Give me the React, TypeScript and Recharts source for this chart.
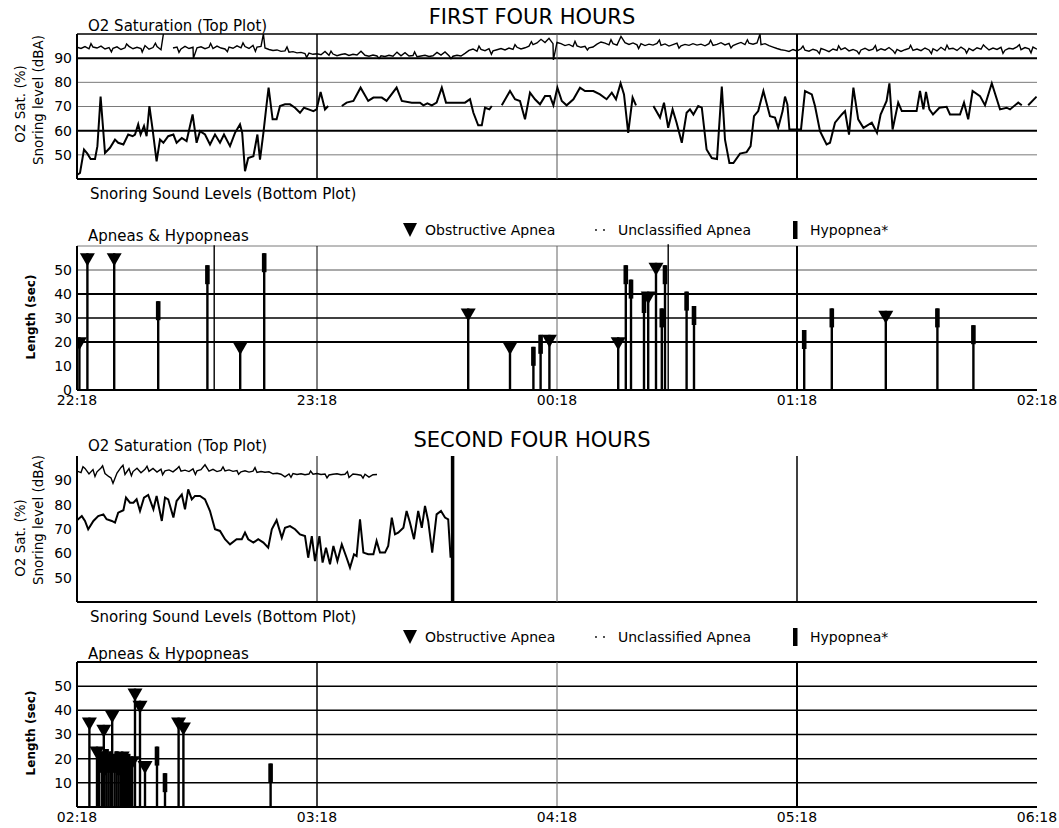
import React from "react";
import { ComposedChart, Line, Scatter, XAxis, YAxis, ReferenceLine } from "recharts";

const FONT = "'DejaVu Sans', 'Liberation Sans', Arial, sans-serif";

// ---------- axes ----------
const hourTicks = [0, 60, 120, 180, 240];
const firstHourLabels = ["22:18", "23:18", "00:18", "01:18", "02:18"];
const secondHourLabels = ["02:18", "03:18", "04:18", "05:18", "06:18"];
const levelTicks = [50, 60, 70, 80, 90];
const lengthTicksFirst = [0, 10, 20, 30, 40, 50];
const lengthTicksSecond = [10, 20, 30, 40, 50];

// ---------- first four hours: O2 saturation (index = minute) ----------
const o2FirstValues: (number | null)[] = [
  94.5, 94.0, 94.8, 93.9, 94.6, 94.2, 95.0, 93.8, 94.4, 94.1,
  94.7, 93.6, 94.3, 94.9, 93.9, 94.5, 94.0, 95.2, 93.7, 94.4,
  94.8, 93.5, null, null, 94.2, 94.6, 93.8, 94.9, 94.0, 94.5,
  94.3, 94.7, 93.9, 94.5, 94.0, 95.0, 94.2, 93.8, 94.6, 94.1,
  95.1, 94.3, 94.8, 94.0, 95.3, 94.6, 94.9, 94.2, 93.6, 93.2,
  93.4, 92.8, 93.0, 92.5, 92.7, 92.2, 92.4, 91.9, 92.1, 91.6,
  91.8, 91.4, 92.8, 91.2, 91.7, 91.0, 91.5, 91.8, 91.1, 91.6,
  91.3, 92.9, 91.2, 90.8, 91.3, 90.9, 91.0, 90.7, 91.2, 90.8,
  92.5, 91.0, 92.3, 90.9, 91.1, 90.6, 90.9, 91.2, 90.7, 91.0,
  92.4, 91.3, 92.6, 91.0, 90.8, 91.2, 90.9, 92.0, 93.2, 93.8,
  92.9, 93.6, 93.1, 93.9, 93.0, 93.5, 94.0, 93.4, 94.2, 93.6,
  94.5, 93.8, 94.3, 95.0, 95.6, 96.3, 97.8, 96.5, 98.2, 96.0,
  96.5, 96.0, 95.2, 95.7, 94.8, 95.1, 94.5, 94.9, 94.3, 94.6,
  95.8, 96.7, 96.2, 95.5, 96.0, 95.4, 99.0, 96.4, 95.7, 96.3,
  95.5, 96.0, 95.2, 95.8, 95.4, 96.1, 95.3, 95.9, 95.0, 95.6,
  96.2, 95.1, 95.7, 95.3, 96.0, 95.4, 95.8, 95.1, 96.0, 95.3,
  95.7, 96.4, 95.5, 96.1, 95.2, 95.9, 96.5, 95.6, 96.2, 95.8,
  96.3, 95.6, 96.0, 95.2, 94.6, 94.0, 93.5, 93.2, 92.8, 93.6,
  93.0, 93.9, 93.3, 92.9, 93.7, 93.1, 94.0, 93.4, 92.7, 93.8,
  93.2, 93.5, 94.3, 93.0, 93.6, 92.9, 93.4, 94.1, 93.2, 93.7,
  93.0, 93.9, 93.3, 94.4, 93.1, 93.6, 92.8, 93.5, 94.0, 93.2,
  93.8, 93.1, 94.2, 93.4, 93.9, 93.0, 94.5, 93.3, 93.8, 94.1,
  93.2, 94.6, 93.5, 94.0, 93.1, 94.3, 93.7, 94.8, 93.4, 94.2,
  93.6, 94.5, 93.3, 94.1, 93.8, 94.7, 93.5, 94.4, 93.9, 94.6,
  93.7,
];
// brief excursions between the minute readings [minute, %]
const o2FirstSpikes: [number, number][] = [
  [3.5, 96.0], [8.6, 92.6], [12.4, 95.9], [16.3, 92.5], [19.6, 96.2], [21.6, 100], [25.5, 92.4],
  [29.1, 90], [33.4, 96.1], [37.6, 92.7], [41.5, 96.3], [44.6, 92.8], [46.6, 100], [52.5, 94.6],
  [57.4, 90.3], [63.5, 92.9], [75.5, 89.9], [84.4, 92.6], [93.5, 89.8], [100.5, 95.0], [103.6, 91.6],
  [109.5, 95.6], [113.6, 96.8], [119.1, 89.3], [124.5, 97.0], [127.6, 93.4], [133.5, 97.6], [140.4, 94.0],
  [145.6, 97.5], [150.5, 94.1], [158.4, 97.4], [163.5, 94.2], [167.6, 97.6], [170.75, 100], [181.5, 95.0],
  [185.6, 91.9], [190.4, 95.1], [195.5, 91.8], [199.6, 95.2], [204.5, 92.0], [208.4, 95.3], [213.6, 91.9],
  [217.5, 95.4], [222.4, 92.1], [226.6, 95.5], [231.5, 92.0], [235.6, 95.6], [238.5, 92.2],
];

// ---------- first four hours: snoring level [minute, dBA] ----------
const snoringFirst: [number, number | null][] = [
  [0.1, 41.8], [0.75, 42.5], [1.75, 52.2], [2.6, 50.5], [3.4, 48.3], [4.5, 48.3], [5.1, 53.6], [5.9, 74.1],
  [7.0, 50.8], [8.25, 52.9], [9.5, 56.3], [10.3, 55], [11.6, 54.3], [12.8, 58.4], [13.9, 57.7], [14.5, 58.4],
  [15.3, 62.6], [15.9, 58.4], [16.75, 61.9], [17.4, 57.7], [18.1, 70.2], [18.9, 60.5], [19.9, 47.3], [20.75, 56.3],
  [21.6, 55], [22.8, 57.7], [24.1, 58.4], [24.9, 55], [26.2, 57], [27.4, 55.7], [28.9, 66.7], [29.9, 55],
  [30.75, 59.8], [32, 58.4], [33.25, 54.3], [34.5, 58.4], [35.75, 55], [36.75, 58.4], [38.25, 53.6], [39.5, 59.1],
  [40.75, 62.6], [41.3, 59.1], [42, 43.2], [42.8, 48.7], [44.1, 49.4], [45.1, 58.4], [45.75, 48], [46.6, 59.1],
  [47.4, 70.9], [47.9, 77.8], [48.9, 64.7], [49.9, 64.7], [50.75, 70.2], [52, 70.9], [53.25, 70.9], [54.5, 69.5],
  [55.75, 67.4], [56.75, 69.5], [57.9, 68.8], [59.1, 68.1], [59.9, 68.8], [60.9, 76], [62, 68.8], [62.8, 70.2],
  [64, null], [66.2, 70.2], [67.4, 71.6], [69.1, 72.3], [70.9, 77.8], [72.8, 72.3], [74.1, 73.7], [76.2, 73.7],
  [77.4, 72.3], [79.9, 77.8], [81.2, 72.3], [83.7, 71.6], [85.75, 71.6], [86.6, 70.5], [87.6, 71.3], [88.7, 70.5],
  [89.9, 71.6], [91.2, 77.8], [92.25, 71.6], [94.1, 71.6], [97, 71.6], [98.25, 73], [99.1, 67.4], [100.3, 62.2],
  [101.2, 62.2], [102, 69.5], [103.1, 68.8], [103.7, 70.2], [105, null], [106.2, 70.5], [108.25, 76.4], [109.5, 73],
  [110.75, 72.3], [112, 64.7], [113.25, 75.7], [114.5, 73], [115.75, 70.9], [117, 74.3], [118.25, 74.3], [119.1, 70.5],
  [120.1, 77.8], [121.2, 72.3], [122.4, 70.5], [124.1, 73], [125.75, 77.8], [127, 76.4], [129.1, 76.4], [130.75, 75],
  [132.4, 73], [133.7, 75.7], [134.75, 73], [135.9, 79.6], [136.75, 75], [137.8, 59.1], [138.9, 73.7], [139.75, 70.5],
  [142, null], [144.1, 70.2], [145.75, 65.4], [146.75, 71.6], [147.8, 61.2], [148.9, 68.8], [149.9, 63.3], [151.2, 55],
  [152.4, 67.4], [153.25, 68.8], [154.1, 66.7], [155.3, 70.2], [156.2, 69.5], [157.4, 52.2], [158.7, 48.7], [160, 48.3],
  [161.2, 78.2], [162, 56.3], [163.1, 46.6], [164.1, 46.6], [165.75, 50.5], [167.4, 51.1], [168.4, 53.6], [169.25, 66],
  [170.3, 68.1], [171.6, 76.4], [173.25, 66], [174.5, 65.4], [175.3, 61.2], [176.4, 68.1], [177, 74.1], [177.6, 70.9],
  [178.1, 60.5], [180.1, 60.5], [181, 60.5], [182, 76.4], [183.7, 75], [184.5, 70.2], [185.75, 59.8], [187.4, 54.3],
  [188.25, 55], [189.5, 63.3], [191.2, 66.7], [192, 68.1], [193, 58.4], [194.1, 77.8], [195.3, 64.7], [196.6, 61.2],
  [198.7, 63.3], [200, 59.1], [200.9, 66.7], [202.4, 72.3], [203.1, 79.6], [203.9, 60.5], [205.3, 71.6], [206.2, 68.1],
  [209.9, 68.1], [210.75, 76.4], [211.6, 68.8], [212.25, 76], [213.1, 68.8], [214, 66.7], [215.6, 69.5], [217.4, 69.9],
  [218.25, 66.7], [220.75, 66.7], [221.75, 71.6], [222.8, 64.7], [223.9, 76.4], [225.75, 74.3], [227, 70.5], [228.7, 79.6],
  [230.75, 68.8], [232.4, 69.5], [233.25, 68.8], [235.3, 71.6], [236.2, 70.5], [237, null], [237.8, 70.5], [239.9, 74.1],
];

// ---------- first four hours: events [minute, length sec, kind] ----------
type Kind = "OA" | "H" | "U";
const eventsFirst: [number, number, Kind][] = [
  [0.6, 22, "OA"], [2.6, 57, "OA"], [9.3, 57, "OA"], [20.3, 37, "H"], [32.6, 52, "H"], [34.3, 60.3, "U"],
  [40.8, 20, "OA"], [46.8, 57, "H"], [97.8, 34, "OA"], [108.25, 20, "OA"], [114.1, 18, "H"], [115.9, 23, "H"],
  [118.1, 23, "OA"], [135.3, 22, "OA"], [137.2, 52, "H"], [138.5, 46, "H"], [141.75, 40, "H"], [142.8, 41, "OA"],
  [144.75, 53, "OA"], [146.2, 34, "H"], [147, 52, "H"], [147.8, 60.7, "U"], [152.4, 41, "H"], [154.25, 35, "H"],
  [181.8, 25, "H"], [188.7, 34, "H"], [202.2, 33, "OA"], [215.1, 34, "H"], [224.1, 27, "H"],
];

// ---------- second four hours ----------
const o2SecondValues: number[] = [
  93.8, 93.2, 94.9, 92.6, 94.4, 93.5, 95.1, 92.8, 91.5, 88.8,
  93.0, 95.3, 92.4, 94.8, 93.6, 95.0, 93.1, 94.5, 93.7, 94.9,
  93.4, 94.6, 93.9, 94.3, 93.5, 94.8, 93.8, 94.2, 93.6, 94.7,
  93.9, 94.4, 96.4, 93.8, 94.5, 93.6, 94.1, 93.9, 94.3, 93.7,
  94.0, 93.5, 93.9, 93.4, 93.8, 93.2, 93.6, 93.3, 93.5, 92.7,
  92.9, 92.5, 91.4, 92.6, 92.8, 92.4, 92.7, 92.3, 92.6, 92.5,
  92.8, 92.4, 92.6, 92.2, 92.5, 92.7, 92.3, 92.5, 91.2, 92.6,
  92.4, 92.1, 92.5, 91.3, 92.3, 92.4,
];
const o2SecondSpikes: [number, number][] = [
  [1.5, 95.6], [4.5, 91.6], [6.4, 96.0], [8.5, 91.0], [11.5, 96.2], [13.6, 91.9], [17.5, 95.8],
  [21.4, 92.3], [25.5, 95.7], [29.6, 92.4], [36.5, 95.5], [40.4, 92.5], [44.5, 95.2], [53.5, 91.2],
  [58.4, 93.8], [62.5, 91.0], [67.6, 93.6], [71.5, 90.9],
];

const snoringSecond: [number, number][] = [
  [0, 73.6], [1.2, 75.3], [2, 73.3], [2.8, 69.9], [4.1, 73.3], [5.3, 75.3], [6.6, 76], [7.4, 74],
  [8.7, 73.3], [9.5, 72.6], [10.3, 76.7], [11.6, 77.7], [12.25, 82.9], [13.25, 80.8], [14.1, 80.8], [14.9, 82.2],
  [15.75, 77.4], [16.75, 82.9], [17.8, 84], [19.1, 78.1], [19.9, 83.6], [21.2, 73.3], [22, 82.9], [22.8, 82.2],
  [24.1, 74.7], [24.9, 81.5], [26.2, 84.2], [27, 78.1], [27.8, 86.3], [28.7, 82.2], [29.5, 83.6], [30.75, 83.6],
  [32, 82.2], [33.25, 77.4], [34.5, 69.9], [35.75, 69.2], [37, 65.8], [38.25, 63.7], [39.9, 65.8], [41.2, 65.8],
  [42, 68.5], [42.8, 65.8], [44.1, 64.4], [45.3, 65.8], [46.6, 64.4], [47.8, 62.3], [48.7, 69.9], [49.9, 73.6],
  [51.2, 66.4], [52, 70.5], [53.25, 71.2], [54.5, 69.9], [55.75, 67.8], [57, 67.1], [57.8, 58.2], [58.7, 67.1],
  [59.5, 56.8], [60.6, 67.1], [61.4, 56.2], [62.25, 62.3], [63.25, 55.5], [64.1, 63], [65.1, 56.8], [66.2, 63.7],
  [67.4, 58.2], [68.25, 54.1], [69.25, 59.6], [69.9, 58.9], [70.75, 74], [71.6, 60.3], [72.8, 59.6], [74.1, 59.6],
  [74.9, 65.1], [75.75, 60.3], [77, 60.3], [77.8, 63], [78.7, 74.7], [79.5, 67.8], [80.3, 68.5], [81.6, 70.5],
  [82.4, 77.4], [83.25, 72.6], [84.25, 65.8], [85.3, 77.4], [86.2, 70.5], [87, 79.5], [87.8, 73.3], [88.8, 60.3],
  [89.9, 76], [91, 77.4], [92, 74.7], [92.8, 74], [93.4, 58.2],
];
const recordingEndSecond = 93.9;

const eventsSecond: [number, number, Kind][] = [
  [3.1, 37, "OA"], [5, 25, "OA"], [5.5, 22, "H"], [6.2, 23, "H"], [6.7, 34, "OA"], [6.9, 21, "H"],
  [7.4, 24, "H"], [7.9, 22, "H"], [8.4, 23, "H"], [8.8, 40, "OA"], [9.4, 22, "H"], [9.9, 23, "H"],
  [10.4, 21, "H"], [10.9, 22, "H"], [11.3, 23, "OA"], [11.8, 22, "H"], [12.3, 21, "H"], [12.8, 22, "H"],
  [13.3, 20, "H"], [13.8, 21, "OA"], [14.5, 49, "OA"], [15.75, 44, "OA"], [17, 19, "OA"], [20, 25, "H"],
  [22, 14, "H"], [25.4, 37, "OA"], [26.6, 35, "OA"], [48.4, 18, "H"],
];

// ---------- helpers ----------
const mergeSeries = (values: (number | null)[], spikes: [number, number][]) => {
  const pts: { t: number; v: number | null }[] = values.map((v, i) => ({ t: i, v }));
  spikes.forEach(([t, v]) => {
    const prev = values[Math.floor(t)];
    if (prev !== null) pts.push({ t, v });
  });
  return pts.sort((a, b) => a.t - b.t);
};
const pairsToSeries = (pairs: [number, number | null][]) => pairs.map(([t, v]) => ({ t, v }));

const o2First = mergeSeries(o2FirstValues, o2FirstSpikes);
const o2Second = mergeSeries(o2SecondValues, o2SecondSpikes);
const snoreFirst = pairsToSeries(snoringFirst);
const snoreSecond = pairsToSeries(snoringSecond);

const toEvents = (ev: [number, number, Kind][]) => ev.map(([t, len, kind]) => ({ t, len, kind }));
const evFirst = toEvents(eventsFirst);
const evSecond = toEvents(eventsSecond);

const tickStyle = { fontSize: 14, fill: "#000", fontFamily: FONT };

const Triangle = (p: any) => {
  const { cx, cy } = p;
  if (cx == null || cy == null) return <g />;
  return <polygon points={`${cx - 7.5},${cy} ${cx + 7.5},${cy} ${cx},${cy + 13}`} fill="#000" />;
};
const HypBar = (p: any) => {
  const { cx, cy } = p;
  if (cx == null || cy == null) return <g />;
  return <rect x={cx - 2.3} y={cy} width={4.6} height={19} fill="#000" />;
};

type GL = { v: number; w: number; c: string };

const renderH = (lines: GL[]) =>
  lines.map((g, i) => (
    <ReferenceLine key={"h" + i} y={g.v} stroke={g.c} strokeWidth={g.w} ifOverflow="visible" />
  ));
const renderV = (lines: GL[]) =>
  lines.map((g, i) => (
    <ReferenceLine key={"v" + i} x={g.v} stroke={g.c} strokeWidth={g.w} ifOverflow="visible" />
  ));

const stems = (ev: { t: number; len: number; kind: Kind }[]) =>
  ev.map((e, i) => (
    <ReferenceLine
      key={"s" + i}
      segment={[{ x: e.t, y: 0 }, { x: e.t, y: e.len }]}
      stroke="#000"
      strokeWidth={e.kind === "U" ? 1.4 : 2.4}
      ifOverflow="visible"
    />
  ));

const SignalPanel = ({ top, o2, snore, hGrid, vGrid, endMarker }: any) => (
  <div style={{ position: "absolute", left: 0, top }}>
    <ComposedChart width={1059} height={200} margin={{ top: top === 0 ? 34 : 36, right: 22, bottom: top === 0 ? 21 : 18, left: 37 }}>
      <XAxis dataKey="t" type="number" domain={[0, 240]} ticks={hourTicks} hide allowDataOverflow />
      <YAxis
        type="number"
        domain={[40, 100]}
        ticks={levelTicks}
        interval={0}
        width={40}
        tickSize={0}
        tickMargin={5}
        tickLine={false}
        tick={tickStyle}
        axisLine={{ stroke: "#000", strokeWidth: 2 }}
        allowDataOverflow
      />
      {renderH(hGrid)}
      {renderV(vGrid)}
      {endMarker != null && (
        <ReferenceLine x={endMarker} stroke="#000" strokeWidth={3.5} ifOverflow="visible" />
      )}
      <Line data={o2} dataKey="v" stroke="#000" strokeWidth={1.4} dot={false} isAnimationActive={false} connectNulls={false} />
      <Line data={snore} dataKey="v" stroke="#000" strokeWidth={2} dot={false} isAnimationActive={false} connectNulls={false} />
    </ComposedChart>
  </div>
);

const EventPanel = ({ top, height, marginTop, xHeight, marginBottom, ev, labels, yTicks, hGrid, vGrid }: any) => (
  <div style={{ position: "absolute", left: 0, top }}>
    <ComposedChart width={1059} height={height} margin={{ top: marginTop, right: 22, bottom: marginBottom, left: 37 }}>
      <XAxis
        dataKey="t"
        type="number"
        domain={[0, 240]}
        ticks={hourTicks}
        interval={0}
        height={xHeight}
        tickSize={0}
        tickMargin={5}
        tickLine={false}
        tick={tickStyle}
        axisLine={{ stroke: "#000", strokeWidth: 2 }}
        tickFormatter={(v: number) => labels[hourTicks.indexOf(v)]}
        allowDataOverflow
      />
      <YAxis
        type="number"
        domain={[0, 60]}
        ticks={yTicks}
        interval={0}
        width={40}
        tickSize={0}
        tickMargin={5}
        tickLine={false}
        tick={tickStyle}
        axisLine={{ stroke: "#000", strokeWidth: 2 }}
        allowDataOverflow
      />
      {renderH(hGrid)}
      {renderV(vGrid)}
      {stems(ev)}
      <Scatter data={ev.filter((e: any) => e.kind === "H")} dataKey="len" shape={HypBar} isAnimationActive={false} />
      <Scatter data={ev.filter((e: any) => e.kind === "OA")} dataKey="len" shape={Triangle} isAnimationActive={false} />
    </ComposedChart>
  </div>
);

const txt = { fontFamily: FONT, fill: "#000" } as const;

const Legend = ({ y }: { y: number }) => (
  <g>
    <polygon points={`403,${y - 12} 417,${y - 12} 410,${y + 2}`} fill="#000" />
    <text x={425} y={y} fontSize={14} {...txt}>Obstructive Apnea</text>
    <circle cx={596} cy={y - 5} r={0.9} fill="#000" />
    <circle cx={604} cy={y - 5} r={0.9} fill="#000" />
    <text x={618} y={y} fontSize={14} {...txt}>Unclassified Apnea</text>
    <rect x={793} y={y - 14} width={4.5} height={18} fill="#000" />
    <text x={810} y={y} fontSize={14} {...txt}>Hypopnea*</text>
  </g>
);

export default function App() {
  const thin = "#7a7a7a";
  const dark = "#000";
  return (
    <div style={{ position: "absolute", left: 0, top: 0, width: 1059, height: 828, background: "#fff" }}>
      <SignalPanel
        top={0}
        o2={o2First}
        snore={snoreFirst}
        hGrid={[
          { v: 100, w: 1.5, c: dark },
          { v: 90, w: 2, c: dark },
          { v: 80, w: 1, c: thin },
          { v: 70, w: 1, c: thin },
          { v: 60, w: 2, c: dark },
          { v: 50, w: 1, c: thin },
          { v: 40, w: 2, c: dark },
        ]}
        vGrid={[
          { v: 60, w: 1.5, c: dark },
          { v: 120, w: 1, c: "#555" },
          { v: 180, w: 2, c: dark },
        ]}
      />
      <EventPanel
        top={200}
        height={220}
        marginTop={46}
        xHeight={25}
        marginBottom={5}
        ev={evFirst}
        labels={firstHourLabels}
        yTicks={lengthTicksFirst}
        hGrid={[
          { v: 60, w: 1, c: thin },
          { v: 50, w: 1, c: "#555" },
          { v: 40, w: 2, c: dark },
          { v: 30, w: 1.5, c: dark },
          { v: 20, w: 2, c: dark },
        ]}
        vGrid={[
          { v: 60, w: 1, c: dark },
          { v: 120, w: 1, c: "#666" },
          { v: 180, w: 2, c: dark },
        ]}
      />
      <SignalPanel
        top={420}
        o2={o2Second}
        snore={snoreSecond}
        endMarker={recordingEndSecond}
        hGrid={[{ v: 40, w: 2, c: dark }]}
        vGrid={[
          { v: 60, w: 1, c: dark },
          { v: 120, w: 1, c: "#666" },
          { v: 180, w: 1.5, c: dark },
        ]}
      />
      <EventPanel
        top={620}
        height={208}
        marginTop={42}
        xHeight={21}
        marginBottom={0}
        ev={evSecond}
        labels={secondHourLabels}
        yTicks={lengthTicksSecond}
        hGrid={[
          { v: 60, w: 2, c: dark },
          { v: 50, w: 1.5, c: dark },
          { v: 40, w: 1.5, c: dark },
          { v: 30, w: 1.5, c: dark },
          { v: 20, w: 1.5, c: dark },
          { v: 10, w: 1.5, c: dark },
        ]}
        vGrid={[
          { v: 60, w: 1.5, c: dark },
          { v: 120, w: 1, c: "#666" },
          { v: 180, w: 2, c: dark },
        ]}
      />
      <svg width={1059} height={828} style={{ position: "absolute", left: 0, top: 0, pointerEvents: "none" }}>
        <text x={532} y={24} fontSize={21} textAnchor="middle" {...txt}>FIRST FOUR HOURS</text>
        <text x={88} y={31} fontSize={15} {...txt}>O2 Saturation (Top Plot)</text>
        <text x={90} y={199} fontSize={15} {...txt}>Snoring Sound Levels (Bottom Plot)</text>
        <text x={88} y={241} fontSize={15} {...txt}>Apneas &amp; Hypopneas</text>
        <Legend y={235} />
        <text transform="translate(25,104) rotate(-90)" fontSize={13.5} textAnchor="middle" {...txt}>O2 Sat. (%)</text>
        <text transform="translate(43,100) rotate(-90)" fontSize={13.5} textAnchor="middle" {...txt}>Snoring level (dBA)</text>
        <text transform="translate(35,317) rotate(-90)" fontSize={12} fontWeight="bold" textAnchor="middle" {...txt}>Length (sec)</text>

        <text x={532} y={447} fontSize={21} textAnchor="middle" {...txt}>SECOND FOUR HOURS</text>
        <text x={88} y={451} fontSize={15} {...txt}>O2 Saturation (Top Plot)</text>
        <text x={90} y={622} fontSize={15} {...txt}>Snoring Sound Levels (Bottom Plot)</text>
        <Legend y={642} />
        <text x={88} y={659} fontSize={15} {...txt}>Apneas &amp; Hypopneas</text>
        <text transform="translate(25,538) rotate(-90)" fontSize={13.5} textAnchor="middle" {...txt}>O2 Sat. (%)</text>
        <text transform="translate(43,520) rotate(-90)" fontSize={13.5} textAnchor="middle" {...txt}>Snoring level (dBA)</text>
        <text transform="translate(35,733) rotate(-90)" fontSize={12} fontWeight="bold" textAnchor="middle" {...txt}>Length (sec)</text>
      </svg>
    </div>
  );
}
